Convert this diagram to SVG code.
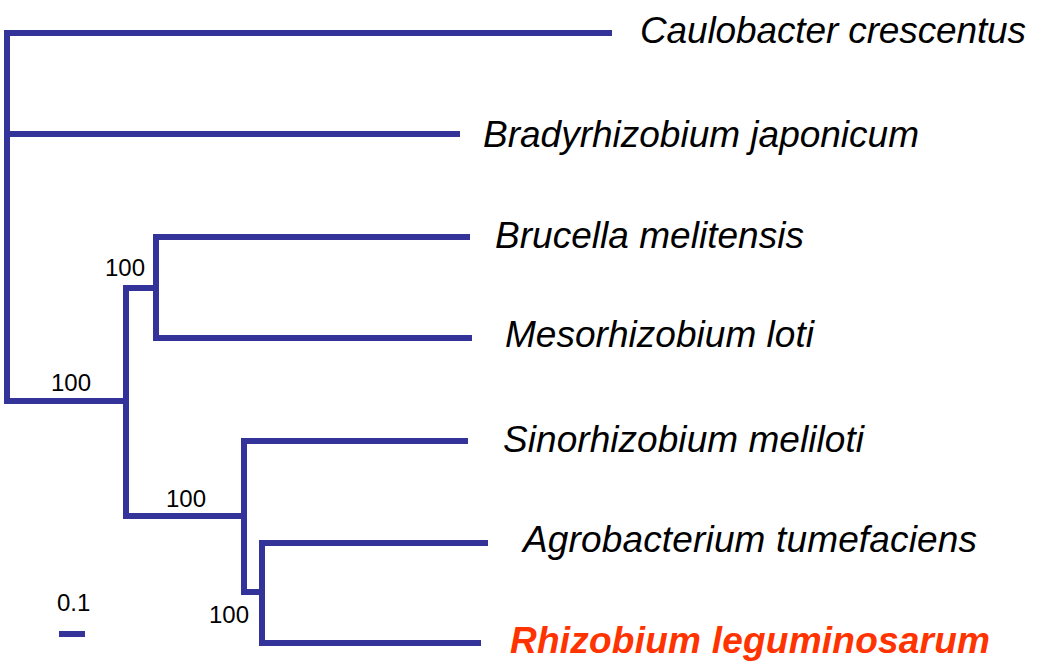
<svg xmlns="http://www.w3.org/2000/svg" width="1047" height="670" viewBox="0 0 1047 670">
<style>
.br{fill:none;stroke:#333399;stroke-width:6;stroke-linejoin:miter;stroke-linecap:butt}
.sp{font-family:"Liberation Sans",Arial,sans-serif;font-style:italic;font-size:37px;fill:#000}
.hl{font-weight:bold;fill:#FF3300}
.bs{font-family:"Liberation Sans",Arial,sans-serif;font-size:24px;fill:#000}
</style>
<rect width="1047" height="670" fill="#fff"/>
<g id="connectors">
<path class="br" d="M612,33 H7 V401 H126"/>
<path class="br" d="M460,134 H7"/>
<path class="br" d="M155,288 H126 V516 H244"/>
<path class="br" d="M470,237 H156 V338 H472"/>
<path class="br" d="M468,441 H244 V592 H262"/>
<path class="br" d="M488,543 H262 V643 H481"/>
</g>
<g id="caulobacter"><text class="sp" x="640" y="43" textLength="386" lengthAdjust="spacing">Caulobacter crescentus</text></g>
<g id="bradyrhizobium"><text class="sp" x="483" y="147" textLength="436" lengthAdjust="spacing">Bradyrhizobium japonicum</text></g>
<g id="brucella"><text class="sp" x="495" y="248" textLength="309" lengthAdjust="spacing">Brucella melitensis</text></g>
<g id="mesorhizobium"><text class="sp" x="505" y="347" textLength="309" lengthAdjust="spacing">Mesorhizobium loti</text></g>
<g id="sinorhizobium"><text class="sp" x="503" y="452" textLength="361" lengthAdjust="spacing">Sinorhizobium meliloti</text></g>
<g id="agrobacterium"><text class="sp" x="523" y="552" textLength="454" lengthAdjust="spacing">Agrobacterium tumefaciens</text></g>
<g id="rhizobium"><text class="sp hl" x="510" y="653" textLength="480" lengthAdjust="spacing">Rhizobium leguminosarum</text></g>
<g id="bootstrap">
<text class="bs" x="105" y="276">100</text>
<text class="bs" x="51" y="391">100</text>
<text class="bs" x="166" y="507">100</text>
<text class="bs" x="209" y="623">100</text>
</g>
<g id="scale">
<text class="bs" x="57" y="611">0.1</text>
<path class="br" d="M59,634 H85"/>
</g>
</svg>
